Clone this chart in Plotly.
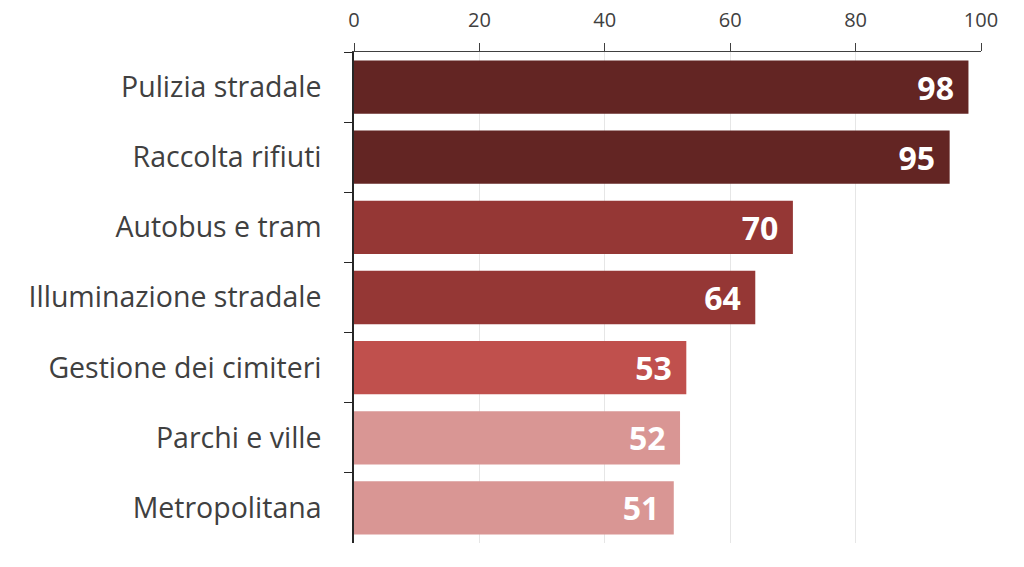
import plotly.graph_objects as go

categories = ["Pulizia stradale", "Raccolta rifiuti", "Autobus e tram", "Illuminazione stradale",
              "Gestione dei cimiteri", "Parchi e ville", "Metropolitana"]
values = [98, 95, 70, 64, 53, 52, 51]
colors = ["#632523", "#632523", "#953735", "#953735", "#C0504D", "#D99694", "#D99694"]
x_ticks = [0, 20, 40, 60, 80, 100]

fig = go.Figure(go.Bar(
    y=categories, x=values, orientation="h",
    marker=dict(color=colors, line=dict(width=0)),
    text=[str(v) + "\u00a0\u200a" for v in values], textposition="inside", insidetextanchor="end",
    textfont=dict(family="Open Sans", size=32, color="white", weight="bold"),
    cliponaxis=False,
))

fig.update_layout(
    width=1024, height=567, margin=dict(l=354, r=43, t=52, b=24),
    paper_bgcolor="white", plot_bgcolor="white", bargap=0.24, showlegend=False,
    uniformtext=dict(minsize=10, mode="show"),
    xaxis=dict(side="top", range=[0, 100], tickvals=x_ticks, ticks="outside", ticklen=8,
               tickcolor="#404040", showline=True, linecolor="#404040", linewidth=1,
               showgrid=True, gridcolor="#E6E6E6", gridwidth=1, zeroline=False, automargin=False,
               tickfont=dict(family="Open Sans", size=20, color="#404040"), ticklabelstandoff=8),
    yaxis=dict(autorange="reversed", categoryorder="array", categoryarray=categories,
               ticks="outside", ticklen=8, tickson="boundaries", tickcolor="#262626",
               showline=True, linecolor="#262626", linewidth=1.5, showgrid=False, automargin=False,
               tickfont=dict(family="Open Sans", size=28.5, color="#404040"), ticklabelstandoff=25),
)

fig.write_html("out.html")
